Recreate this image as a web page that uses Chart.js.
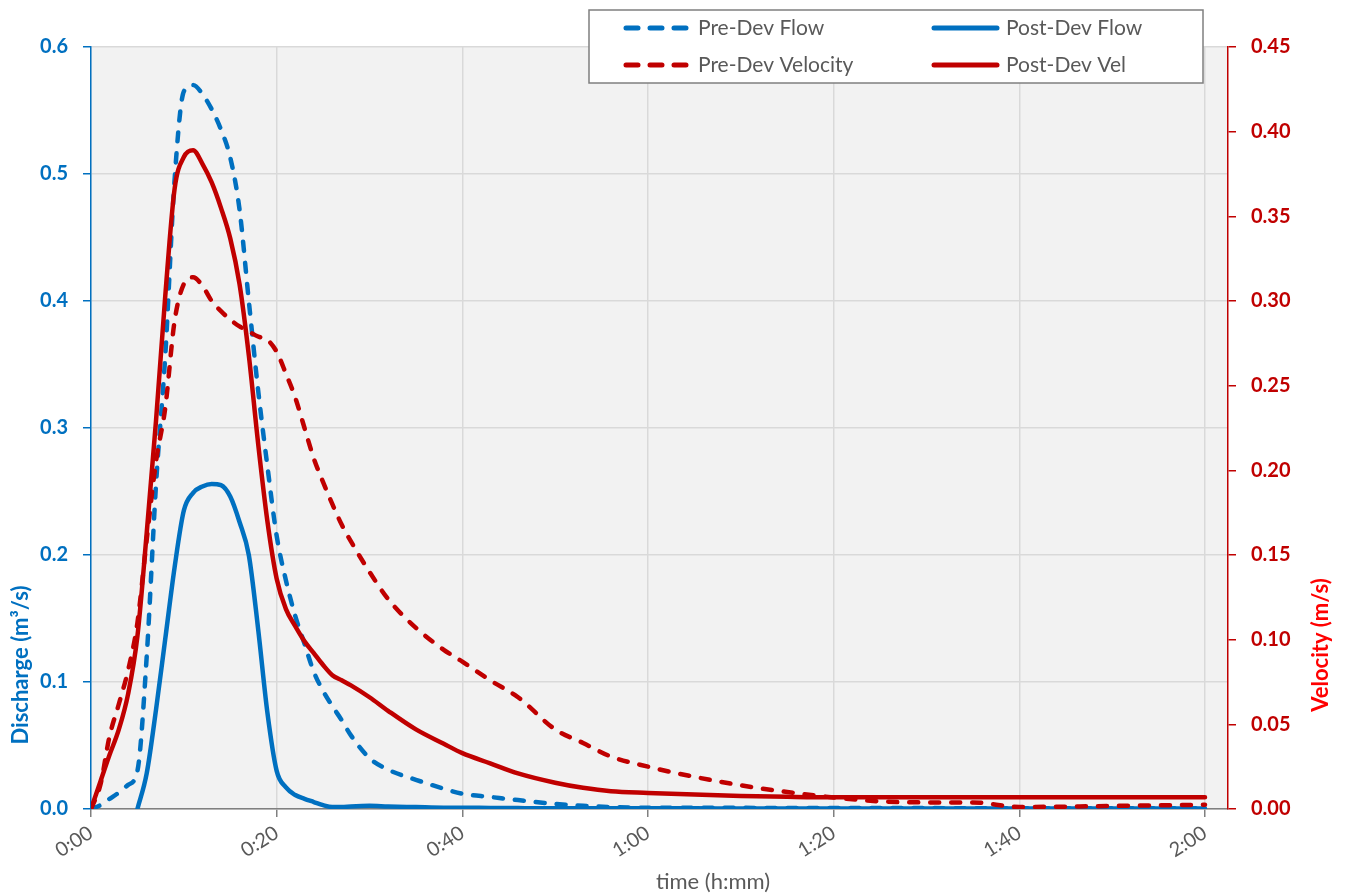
<!DOCTYPE html>
<html>
<head>
<meta charset="utf-8">
<script src="https://cdn.jsdelivr.net/npm/chart.js@4.4.0/dist/chart.umd.min.js"></script>
<style>
  html, body { margin: 0; padding: 0; background: #fff; }
  #wrap { width: 1345px; height: 896px; }
</style>
</head>
<body>
<div id="wrap"><canvas id="chart" width="1345" height="896"></canvas></div>
<script>
// ==============================
// Datos (minutos desde 0:00)
// ==============================
const times = [0, 1, 2, 3, 4, 5, 6, 7, 8, 9, 10, 11, 12, 13, 14, 15, 16, 17, 18, 19, 20,
  21, 22, 23, 24, 25, 26, 27, 28, 30, 32, 35, 38, 40, 43, 46, 50, 53, 56, 60,
  65, 70, 75, 80, 85, 90, 95, 100, 105, 110, 115, 120];

// caudal (m3/s) - eje izquierdo
const preDevFlow = [0, 0.003, 0.008, 0.013, 0.019, 0.03, 0.12, 0.255, 0.357, 0.495, 0.565,
  0.570, 0.563, 0.551, 0.535, 0.513, 0.472, 0.40, 0.33, 0.27, 0.215,
  0.18, 0.152, 0.13, 0.108, 0.093, 0.081, 0.07, 0.058, 0.040, 0.031, 0.023, 0.016, 0.012, 0.0095, 0.007, 0.004, 0.0025, 0.0015, 0.001,
  0.001, 0.0009, 0.0008, 0.0008, 0.0007, 0.0007, 0.0006, 0.0006, 0.0005, 0.0005, 0.0005, 0.0005];

const postDevFlow = [null, null, null, null, null, 0, 0.028, 0.078, 0.134, 0.19, 0.235,
  0.249, 0.254, 0.256, 0.255, 0.246, 0.226, 0.2, 0.142, 0.076, 0.03,
  0.017, 0.011, 0.008, 0.0055, 0.003, 0.0015, 0.0015, 0.002, 0.0025, 0.002, 0.0015, 0.001, 0.001, 0.0008, 0.0007, 0.0006, 0.0006, 0.0005, 0.0005,
  0.0005, 0.0004, 0.0004, 0.0004, 0.0003, 0.0003, 0.0003, 0.0003, 0.0003, 0.0003, 0.0003, 0.0003];

// velocidad (m/s) - eje derecho
const preDevVel = [0, 0.014, 0.043, 0.062, 0.082, 0.11, 0.159, 0.205, 0.237, 0.288, 0.31,
  0.314, 0.309, 0.300, 0.294, 0.289, 0.285, 0.282, 0.279, 0.277, 0.27,
  0.257, 0.243, 0.225, 0.207, 0.193, 0.18, 0.168, 0.158, 0.14, 0.124, 0.107, 0.094, 0.087, 0.076, 0.066, 0.047, 0.039, 0.031, 0.025,
  0.019, 0.014, 0.010, 0.0068, 0.0045, 0.0039, 0.0039, 0.0012, 0.0014, 0.0018, 0.0022, 0.0025];

const postDevVel = [0, 0.016, 0.032, 0.047, 0.068, 0.102, 0.163, 0.229, 0.303, 0.366, 0.385,
  0.389, 0.381, 0.37, 0.355, 0.337, 0.31, 0.268, 0.216, 0.17, 0.136,
  0.118, 0.108, 0.099, 0.092, 0.085, 0.079, 0.076, 0.073, 0.066, 0.058, 0.047, 0.0385, 0.033, 0.027, 0.021, 0.0155, 0.0125, 0.0105, 0.0095,
  0.0085, 0.0077, 0.0072, 0.0069, 0.0069, 0.0069, 0.0069, 0.0069, 0.0069, 0.0069, 0.0069, 0.0069];

const xTicks = [0, 20, 40, 60, 80, 100, 120];

const BLUE = '#0070c0';
const RED = '#c00000';
const FONT = 'Lato, "Open Sans", sans-serif';

function toPoints(values) {
  return times.map((t, i) => ({ x: t, y: values[i] }));
}

function fmtTime(v) {
  const h = Math.floor(v / 60);
  const m = Math.round(v % 60);
  return h + ':' + String(m).padStart(2, '0');
}

// ==============================
// Plugins: fondo del área, títulos de ejes, leyenda con borde
// ==============================
const plotBg = {
  id: 'plotBg',
  beforeDraw(chart) {
    const a = chart.chartArea;
    const ctx = chart.ctx;
    ctx.save();
    ctx.fillStyle = '#f2f2f2';
    ctx.fillRect(a.left, a.top, a.right - a.left, a.bottom - a.top);
    ctx.restore();
  }
};

function drawText(ctx, text, x, y, rot, font, color) {
  ctx.save();
  ctx.font = font;
  ctx.textAlign = 'center';
  ctx.textBaseline = 'middle';
  ctx.translate(x, y);
  ctx.rotate(rot);
  ctx.fillStyle = color;
  ctx.fillText(text, 0, 0);
  ctx.restore();
}

const axisTitles = {
  id: 'axisTitles',
  afterDraw(chart) {
    const ctx = chart.ctx;
    drawText(ctx, 'Discharge (m³/s)', 21, 665, -Math.PI / 2, 'bold 22px ' + FONT, BLUE);
    drawText(ctx, 'Velocity (m/s)', 1321, 645, -Math.PI / 2, 'bold 22px ' + FONT, '#ff0000');
    drawText(ctx, 'time (h:mm)', 713, 882, 0, '22px ' + FONT, '#595959');
  }
};

const legendBox = {
  id: 'legendBox',
  afterDraw(chart) {
    const ctx = chart.ctx;
    ctx.save();
    ctx.fillStyle = '#ffffff';
    ctx.fillRect(589, 10, 614, 73);
    ctx.strokeStyle = '#7f7f7f';
    ctx.lineWidth = 1.5;
    ctx.strokeRect(589, 10, 614, 73);

    // orden de la leyenda: fila 1 caudales, fila 2 velocidades
    const slots = [
      { label: 'Pre-Dev Flow', x: 626, y: 28 },
      { label: 'Post-Dev Flow', x: 934, y: 28 },
      { label: 'Pre-Dev Velocity', x: 626, y: 65 },
      { label: 'Post-Dev Vel', x: 934, y: 65 }
    ];
    slots.forEach(s => {
      const ds = chart.data.datasets.find(d => d.label === s.label);
      ctx.strokeStyle = ds.borderColor;
      ctx.lineWidth = 5;
      ctx.lineCap = 'round';
      ctx.setLineDash(ds.borderDash && ds.borderDash.length ? [12, 12] : []);
      ctx.beginPath();
      ctx.moveTo(s.x, s.y);
      ctx.lineTo(s.x + 63, s.y);
      ctx.stroke();
      ctx.setLineDash([]);
      ctx.fillStyle = '#595959';
      ctx.font = '21px ' + FONT;
      ctx.textAlign = 'left';
      ctx.textBaseline = 'middle';
      ctx.fillText(s.label, s.x + 72, s.y);
    });
    ctx.restore();
  }
};

// ==============================
// Gráfica
// ==============================
const ctx = document.getElementById('chart').getContext('2d');
new Chart(ctx, {
  type: 'line',
  data: {
    datasets: [
      { label: 'Pre-Dev Velocity', data: toPoints(preDevVel), yAxisID: 'y1', borderColor: RED, borderDash: [9, 12], order: 0 },
      { label: 'Post-Dev Vel', data: toPoints(postDevVel), yAxisID: 'y1', borderColor: RED, borderDash: [], order: 1 },
      { label: 'Post-Dev Flow', data: toPoints(postDevFlow), yAxisID: 'y', borderColor: BLUE, borderDash: [], order: 2 },
      { label: 'Pre-Dev Flow', data: toPoints(preDevFlow), yAxisID: 'y', borderColor: BLUE, borderDash: [9, 12], order: 3 }
    ]
  },
  options: {
    responsive: false,
    animation: false,
    layout: { padding: { top: 47, left: 0, right: 0, bottom: 0 } },
    elements: {
      point: { radius: 0 },
      line: { borderWidth: 4.5, cubicInterpolationMode: 'monotone', borderCapStyle: 'round', borderJoinStyle: 'round', fill: false }
    },
    plugins: {
      legend: { display: false },
      tooltip: { enabled: false }
    },
    scales: {
      x: {
        type: 'linear',
        min: 0,
        max: 120 * 1137 / 1114,
        afterBuildTicks: scale => { scale.ticks = xTicks.map(v => ({ value: v })); },
        afterFit: scale => { scale.height = 87; },
        ticks: {
          minRotation: 32, maxRotation: 32, padding: 4,
          color: '#595959',
          font: { family: FONT, size: 20 },
          callback: v => fmtTime(v)
        },
        grid: { color: '#d9d9d9', lineWidth: 1.5, tickColor: '#808080', tickLength: 8 },
        border: { color: '#808080', width: 1.5 }
      },
      y: {
        position: 'left',
        min: 0, max: 0.6,
        afterFit: scale => { scale.width = 91; },
        ticks: {
          stepSize: 0.1, padding: 15, color: BLUE,
          font: { family: FONT, size: 20, weight: 'bold' },
          callback: v => v.toFixed(1)
        },
        grid: { color: '#d9d9d9', lineWidth: 1.5, tickColor: BLUE, tickLength: 8 },
        border: { color: BLUE, width: 1.5 }
      },
      y1: {
        position: 'right',
        min: 0, max: 0.45,
        afterFit: scale => { scale.width = 117; },
        ticks: {
          stepSize: 0.05, padding: 15, color: RED,
          font: { family: FONT, size: 20, weight: 'bold' },
          callback: v => v.toFixed(2)
        },
        grid: { drawOnChartArea: false, tickColor: RED, tickLength: 8, lineWidth: 1.5 },
        border: { color: RED, width: 1.5 }
      }
    }
  },
  plugins: [plotBg, axisTitles, legendBox]
});
</script>
</body>
</html>
